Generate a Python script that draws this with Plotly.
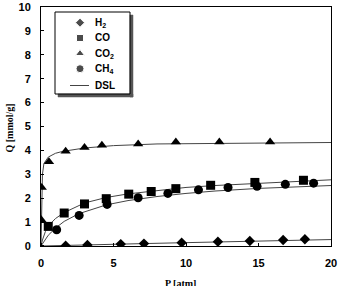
import plotly.graph_objects as go

# Measured data (P [atm], Q [mmol/g])
h2_p = [1.7, 3.2, 5.5, 7.1, 9.7, 12.2, 14.4, 16.7, 18.2]
h2_q = [0.01, 0.04, 0.08, 0.10, 0.14, 0.18, 0.21, 0.25, 0.28]
co_p = [0.5, 1.6, 3.0, 4.5, 6.05, 7.6, 9.3, 11.7, 14.75, 18.1]
co_q = [0.82, 1.38, 1.76, 1.98, 2.17, 2.28, 2.40, 2.54, 2.66, 2.75]
co2_p = [0.02, 0.05, 0.55, 1.7, 3.0, 4.2, 6.7, 9.3, 12.3, 15.8]
co2_q = [1.1, 2.45, 3.52, 3.96, 4.12, 4.22, 4.27, 4.35, 4.35, 4.35]
ch4_p = [1.08, 2.63, 4.56, 6.7, 8.75, 10.86, 12.9, 14.9, 16.85, 18.8]
ch4_q = [0.68, 1.28, 1.74, 2.02, 2.20, 2.35, 2.45, 2.50, 2.58, 2.63]

# DSL fit curves
dsl_h2_p = [0, 2, 5, 7, 10, 12, 15, 18, 20]
dsl_h2_q = [0, 0.02, 0.07, 0.10, 0.14, 0.17, 0.21, 0.25, 0.27]
dsl_co_p = [0, 0.1, 0.3, 0.6, 1.0, 1.6, 3.0, 4.5, 6.0, 8.0, 10, 12, 15, 18, 20]
dsl_co_q = [0, 0.25, 0.6, 0.9, 1.15, 1.40, 1.80, 2.03, 2.18, 2.33, 2.45, 2.53, 2.63, 2.72, 2.77]
dsl_co2_p = [0, 0.02, 0.05, 0.1, 0.2, 0.5, 1.0, 1.5, 3.0, 5.0, 8.0, 12, 16, 20]
dsl_co2_q = [0, 1.2, 2.3, 3.0, 3.45, 3.72, 3.88, 3.96, 4.10, 4.20, 4.27, 4.30, 4.32, 4.33]
dsl_ch4_p = [0, 0.2, 0.5, 1.0, 1.6, 2.6, 4.5, 6.0, 8.0, 10, 12, 15, 18, 20]
dsl_ch4_q = [0, 0.2, 0.45, 0.75, 1.03, 1.35, 1.72, 1.90, 2.07, 2.20, 2.30, 2.41, 2.49, 2.53]

legend_names = ["H<sub>2</sub>", "CO", "CO<sub>2</sub>", "CH<sub>4</sub>", "DSL"]
symbols = ["diamond", "square", "triangle-up", "circle"]
sizes = [8, 9, 9, 9]

# Plot area in pixels
L, R, T, B = 41, 331, 7, 246
W, H = 338, 286
XMAX, YMAX = 20, 10


def px(x):
    return (x - L) / (R - L)


def py(y):
    return (B - y) / (B - T)


line_style = dict(color="#444444", width=1)
fig = go.Figure()
for p, q in [(dsl_h2_p, dsl_h2_q), (dsl_co_p, dsl_co_q), (dsl_co2_p, dsl_co2_q), (dsl_ch4_p, dsl_ch4_q)]:
    fig.add_trace(go.Scatter(x=p, y=q, mode="lines", line=line_style, showlegend=False, hoverinfo="skip"))

for (p, q), sym, sz in zip([(h2_p, h2_q), (co_p, co_q), (co2_p, co2_q), (ch4_p, ch4_q)], symbols, sizes):
    fig.add_trace(go.Scatter(x=p, y=q, mode="markers", showlegend=False,
                             marker=dict(symbol=sym, size=sz, color="black")))

# Hand-made legend (pixel layout -> paper / axis fractions)
leg_x0, leg_x1, leg_y0, leg_y1 = 55, 130, 12, 94
row_y = [22.7, 38, 53.5, 68.7, 85.5]
mark_x = 80
fig.add_trace(go.Scatter(x=[px(mark_x) * XMAX] * 4, y=[py(v) * YMAX for v in row_y[:4]],
                         mode="markers", showlegend=False, hoverinfo="skip",
                         marker=dict(symbol=symbols, size=[7, 7, 8, 8], color="black")))

annotations = [dict(x=px(92.5), y=py(yy), xref="paper", yref="paper", text=f"<b>{t}</b>",
                    showarrow=False, xanchor="left", yanchor="middle",
                    font=dict(family="Liberation Sans", size=10, color="black"))
               for t, yy in zip(legend_names, row_y)]
annotations.append(dict(x=px((L + R) / 2 - 6), y=py(283), xref="paper", yref="paper",
                        text="<b>P [atm]</b>", showarrow=False, xanchor="center", yanchor="middle",
                        font=dict(family="Liberation Serif", size=10, color="black")))
annotations.append(dict(x=px(9), y=py((T + B) / 2 + 2), xref="paper", yref="paper",
                        text="<b>Q [mmol/g]</b>", showarrow=False, xanchor="center",
                        yanchor="middle", textangle=-90,
                        font=dict(family="Liberation Serif", size=10, color="black")))

tickfont = dict(family="Liberation Sans", size=11, color="black", weight="bold")

shapes = [
    # drop shadow (right and bottom strips)
    dict(type="rect", xref="paper", yref="paper", layer="above",
         x0=px(leg_x1), x1=px(leg_x1 + 3), y0=py(leg_y1 + 3), y1=py(leg_y0 + 3),
         fillcolor="#555555", line=dict(color="#555555", width=0.5)),
    dict(type="rect", xref="paper", yref="paper", layer="above",
         x0=px(leg_x0 + 3), x1=px(leg_x1 + 3), y0=py(leg_y1 + 3), y1=py(leg_y1),
         fillcolor="#555555", line=dict(color="#555555", width=0.5)),
    # legend frame
    dict(type="rect", xref="paper", yref="paper", layer="above",
         x0=px(leg_x0), x1=px(leg_x1), y0=py(leg_y1), y1=py(leg_y0),
         fillcolor="rgba(0,0,0,0)", line=dict(color="black", width=1)),
    # DSL legend sample line
    dict(type="line", xref="paper", yref="paper", layer="above",
         x0=px(70), x1=px(89), y0=py(row_y[4]), y1=py(row_y[4]),
         line=line_style),
]

fig.update_layout(
    width=W, height=H,
    margin=dict(l=L, r=W - R, t=T, b=H - B, autoexpand=False),
    paper_bgcolor="white", plot_bgcolor="white",
    showlegend=False,
    xaxis=dict(range=[0, XMAX], dtick=5, ticks="outside", ticklen=7, tickcolor="rgba(0,0,0,0)",
               minor=dict(ticks="inside", ticklen=3, tickcolor="black", dtick=5, tick0=0.005,
                          showgrid=False),
               showline=True, linecolor="black", linewidth=1, mirror=True,
               showgrid=False, zeroline=False, tickfont=tickfont),
    yaxis=dict(range=[0, YMAX], dtick=1, ticks="outside", ticklen=7, tickcolor="rgba(0,0,0,0)",
               minor=dict(ticks="inside", ticklen=3, tickcolor="black", dtick=1, tick0=0.0025,
                          showgrid=False),
               showline=True, linecolor="black", linewidth=1, mirror=True,
               showgrid=False, zeroline=False, tickfont=tickfont),
    shapes=shapes,
    annotations=annotations,
)
fig.write_html("out.html")
